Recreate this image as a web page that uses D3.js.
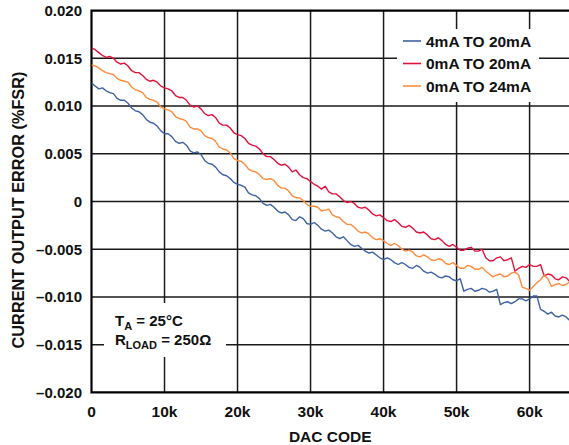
<!DOCTYPE html>
<html>
<head>
<meta charset="utf-8">
<script src="https://cdnjs.cloudflare.com/ajax/libs/d3/7.8.5/d3.min.js"></script>
<style>
    body { margin: 0; background: #fff; }
    text { font-family: "Liberation Sans", Arial, sans-serif; font-weight: bold; fill: #111; }
</style>
</head>
<body>
<div id="chart"></div>
<script>
// DAC code in thousands
const dacCodesK = [0, 0.5, 1, 1.5, 2, 2.5, 3, 3.5, 4, 4.5, 5, 5.5, 6, 6.5, 7, 7.5, 8, 8.5, 9, 9.5,
    10, 10.5, 11, 11.5, 12, 12.5, 13, 13.5, 14, 14.5, 15, 15.5, 16, 16.5, 17, 17.5, 18, 18.5, 19, 19.5,
    20, 20.5, 21, 21.5, 22, 22.5, 23, 23.5, 24, 24.5, 25, 25.5, 26, 26.5, 27, 27.5, 28, 28.5, 29, 29.5,
    30, 30.5, 31, 31.5, 32, 32.5, 33, 33.5, 34, 34.5, 35, 35.5, 36, 36.5, 37, 37.5, 38, 38.5, 39, 39.5,
    40, 40.5, 41, 41.5, 42, 42.5, 43, 43.5, 44, 44.5, 45, 45.5, 46, 46.5, 47, 47.5, 48, 48.5, 49, 49.5,
    50, 50.5, 51, 51.5, 52, 52.5, 53, 53.5, 54, 54.5, 55, 55.5, 56, 56.5, 57, 57.5, 58, 58.5, 59, 59.5,
    60, 60.5, 61, 61.5, 62, 62.5, 63, 63.5, 64, 64.5, 65, 65.535];

const err4to20 = [0.0124, 0.0121, 0.0118, 0.0119, 0.0116, 0.0114, 0.0113, 0.0108, 0.0106, 0.0106,
    0.0103, 0.0098, 0.0095, 0.0094, 0.0091, 0.0086, 0.0083, 0.0082, 0.0079, 0.0074,
    0.0071, 0.0071, 0.0068, 0.0063, 0.0061, 0.0062, 0.0059, 0.0053, 0.0051, 0.0052,
    0.0049, 0.0043, 0.0040, 0.0039, 0.0036, 0.0031, 0.0028, 0.0027, 0.0024, 0.0020,
    0.0018, 0.0017, 0.0015, 0.0009, 0.0007, 0.0006, 0.0003, -0.0002, -0.0004, -0.0003,
    -0.0006, -0.0010, -0.0012, -0.0011, -0.0014, -0.0019, -0.0020, -0.0016, -0.0018, -0.0023,
    -0.0024, -0.0022, -0.0025, -0.0029, -0.0031, -0.0030, -0.0033, -0.0037, -0.0039, -0.0037,
    -0.0041, -0.0045, -0.0047, -0.0046, -0.0049, -0.0052, -0.0054, -0.0053, -0.0056, -0.0059,
    -0.0061, -0.0059, -0.0061, -0.0064, -0.0066, -0.0064, -0.0066, -0.0069, -0.0070, -0.0067,
    -0.0069, -0.0073, -0.0075, -0.0074, -0.0076, -0.0079, -0.0080, -0.0078, -0.0079, -0.0082,
    -0.0083, -0.0081, -0.0094, -0.0092, -0.0091, -0.0094, -0.0093, -0.0091, -0.0092, -0.0095,
    -0.0094, -0.0092, -0.0108, -0.0106, -0.0105, -0.0107, -0.0105, -0.0102, -0.0102, -0.0104,
    -0.0102, -0.0099, -0.0099, -0.0113, -0.0115, -0.0118, -0.0116, -0.0120, -0.0121, -0.0119,
    -0.0121, -0.0125];

const err0to20 = [0.0161, 0.0159, 0.0156, 0.0153, 0.0151, 0.0152, 0.0150, 0.0146, 0.0144, 0.0145,
    0.0142, 0.0137, 0.0135, 0.0135, 0.0132, 0.0128, 0.0126, 0.0127, 0.0125, 0.0121,
    0.0119, 0.0118, 0.0116, 0.0111, 0.0109, 0.0109, 0.0106, 0.0101, 0.0099, 0.0100,
    0.0097, 0.0092, 0.0090, 0.0091, 0.0088, 0.0082, 0.0080, 0.0080, 0.0077, 0.0072,
    0.0070, 0.0069, 0.0066, 0.0061, 0.0059, 0.0058, 0.0055, 0.0050, 0.0047, 0.0047,
    0.0044, 0.0040, 0.0038, 0.0039, 0.0036, 0.0031, 0.0033, 0.0028, 0.0025, 0.0024,
    0.0021, 0.0018, 0.0016, 0.0013, 0.0016, 0.0010, 0.0008, 0.0008, 0.0005, 0.0001,
    -0.0001, 0.0000, -0.0002, -0.0006, -0.0007, -0.0006, -0.0009, -0.0013, -0.0015, -0.0014,
    -0.0017, -0.0020, -0.0021, -0.0019, -0.0022, -0.0026, -0.0027, -0.0025, -0.0028, -0.0032,
    -0.0033, -0.0032, -0.0035, -0.0039, -0.0040, -0.0038, -0.0041, -0.0045, -0.0047, -0.0045,
    -0.0048, -0.0051, -0.0051, -0.0049, -0.0048, -0.0052, -0.0052, -0.0050, -0.0059, -0.0062,
    -0.0062, -0.0059, -0.0058, -0.0062, -0.0061, -0.0059, -0.0073, -0.0070, -0.0068, -0.0069,
    -0.0066, -0.0068, -0.0068, -0.0066, -0.0078, -0.0076, -0.0077, -0.0081, -0.0082, -0.0079,
    -0.0080, -0.0084];

const err0to24 = [0.0143, 0.0142, 0.0140, 0.0137, 0.0135, 0.0134, 0.0133, 0.0129, 0.0127, 0.0126,
    0.0125, 0.0120, 0.0117, 0.0116, 0.0114, 0.0109, 0.0107, 0.0106, 0.0104, 0.0099,
    0.0097, 0.0096, 0.0094, 0.0089, 0.0087, 0.0086, 0.0084, 0.0078, 0.0076, 0.0076,
    0.0074, 0.0069, 0.0067, 0.0066, 0.0063, 0.0057, 0.0055, 0.0054, 0.0051, 0.0045,
    0.0043, 0.0042, 0.0039, 0.0034, 0.0032, 0.0031, 0.0028, 0.0024, 0.0023, 0.0024,
    0.0022, 0.0017, 0.0014, 0.0014, 0.0011, 0.0006, 0.0004, 0.0004, 0.0001, -0.0003,
    -0.0005, -0.0005, -0.0006, -0.0010, -0.0009, -0.0008, -0.0014, -0.0016, -0.0017, -0.0021,
    -0.0024, -0.0024, -0.0027, -0.0031, -0.0033, -0.0032, -0.0034, -0.0038, -0.0040, -0.0039,
    -0.0041, -0.0044, -0.0046, -0.0044, -0.0046, -0.0050, -0.0052, -0.0051, -0.0053, -0.0057,
    -0.0058, -0.0056, -0.0058, -0.0061, -0.0062, -0.0060, -0.0061, -0.0065, -0.0066, -0.0064,
    -0.0067, -0.0070, -0.0070, -0.0067, -0.0068, -0.0071, -0.0071, -0.0069, -0.0073, -0.0076,
    -0.0079, -0.0077, -0.0076, -0.0079, -0.0078, -0.0075, -0.0074, -0.0077, -0.0090, -0.0091,
    -0.0093, -0.0089, -0.0085, -0.0082, -0.0077, -0.0081, -0.0089, -0.0087, -0.0086, -0.0088,
    -0.0087, -0.0084];

const xTicks = [0, 10000, 20000, 30000, 40000, 50000, 60000];
const xTickLabels = ["0", "10k", "20k", "30k", "40k", "50k", "60k"];
const yTicks = [-0.020, -0.015, -0.010, -0.005, 0, 0.005, 0.010, 0.015, 0.020];
const yTickLabels = ["\u20130.020", "\u20130.015", "\u20130.010", "\u20130.005", "0", "0.005", "0.010", "0.015", "0.020"];

const seriesNames = ["4mA TO 20mA", "0mA TO 20mA", "0mA TO 24mA"];
const seriesColors = ["#3d62a5", "#e2123c", "#ff8b3d"];

const width = 569;
const height = 445;
const plotLeft = 91.5, plotRight = 570, plotTop = 10.6, plotBottom = 392.4;

const svg = d3.select("#chart")
    .append("svg")
    .attr("width", width)
    .attr("height", height);

const x = d3.scaleLinear().domain([0, 65535]).range([plotLeft, plotRight]);
const y = d3.scaleLinear().domain([-0.020, 0.020]).range([plotBottom, plotTop]);

// grid
svg.append("g")
    .selectAll("line")
    .data(xTicks.slice(1))
    .enter().append("line")
    .attr("x1", d => x(d)).attr("x2", d => x(d))
    .attr("y1", plotTop).attr("y2", plotBottom)
    .attr("stroke", "#1a1a1a").attr("stroke-width", 1.5);

svg.append("g")
    .selectAll("line")
    .data(yTicks.slice(1, -1))
    .enter().append("line")
    .attr("x1", plotLeft).attr("x2", plotRight)
    .attr("y1", d => y(d)).attr("y2", d => y(d))
    .attr("stroke", "#1a1a1a").attr("stroke-width", 1.5);

// frame
svg.append("path")
    .attr("d", `M${plotRight},${plotTop}H${plotLeft}V${plotBottom}H${plotRight}`)
    .attr("fill", "none")
    .attr("stroke", "#000")
    .attr("stroke-width", 2.2);

// white boxes for legend and note
svg.append("rect").attr("x", 397).attr("y", 29).attr("width", 142).attr("height", 73).attr("fill", "#fff");
svg.append("rect").attr("x", 104).attr("y", 303).attr("width", 122).attr("height", 54).attr("fill", "#fff");

svg.append("clipPath").attr("id", "clip")
    .append("rect")
    .attr("x", plotLeft).attr("y", plotTop)
    .attr("width", plotRight - plotLeft).attr("height", plotBottom - plotTop);

const line = d3.line()
    .x((d, i) => x(dacCodesK[i] * 1000))
    .y(d => y(d));

const allSeries = [err4to20, err0to20, err0to24];

svg.append("g")
    .attr("clip-path", "url(#clip)")
    .selectAll("path")
    .data(allSeries)
    .enter().append("path")
    .attr("d", line)
    .attr("fill", "none")
    .attr("stroke", (d, i) => seriesColors[i])
    .attr("stroke-width", 1.4)
    .attr("stroke-linejoin", "round");

// tick labels
svg.append("g")
    .selectAll("text")
    .data(xTicks)
    .enter().append("text")
    .attr("x", d => x(d))
    .attr("y", 417)
    .attr("text-anchor", "middle")
    .attr("font-size", "15.5px")
    .text((d, i) => xTickLabels[i]);

svg.append("g")
    .selectAll("text")
    .data(yTicks)
    .enter().append("text")
    .attr("x", 82)
    .attr("y", d => y(d))
    .attr("dy", "0.36em")
    .attr("text-anchor", "end")
    .attr("font-size", "15px")
    .text((d, i) => yTickLabels[i]);

// axis titles
svg.append("text")
    .attr("x", (plotLeft + width) / 2)
    .attr("y", 442)
    .attr("text-anchor", "middle")
    .attr("font-size", "15.5px")
    .text("DAC CODE");

svg.append("text")
    .attr("transform", "translate(18,210) rotate(-90)")
    .attr("dy", "0.36em")
    .attr("text-anchor", "middle")
    .attr("font-size", "16.3px")
    .text("CURRENT OUTPUT ERROR (%FSR)");

// legend
const legend = svg.append("g")
    .selectAll("g")
    .data(seriesNames)
    .enter().append("g")
    .attr("transform", (d, i) => `translate(403, ${41 + i * 22.5})`);

legend.append("line")
    .attr("x1", 0).attr("x2", 18)
    .attr("stroke", (d, i) => seriesColors[i])
    .attr("stroke-width", 1.6);

legend.append("text")
    .attr("x", 23)
    .attr("dy", "0.36em")
    .attr("font-size", "15.5px")
    .text(d => d);

// conditions note
const note1 = svg.append("text").attr("x", 115).attr("y", 326).attr("font-size", "15px");
note1.append("tspan").text("T");
note1.append("tspan").attr("dy", 4).attr("font-size", "11px").text("A");
note1.append("tspan").attr("dy", -4).text(" = 25°C");

const note2 = svg.append("text").attr("x", 115).attr("y", 345).attr("font-size", "15px");
note2.append("tspan").text("R");
note2.append("tspan").attr("dy", 4).attr("font-size", "11px").text("LOAD");
note2.append("tspan").attr("dy", -4).text(" = 250Ω");
</script>
</body>
</html>
